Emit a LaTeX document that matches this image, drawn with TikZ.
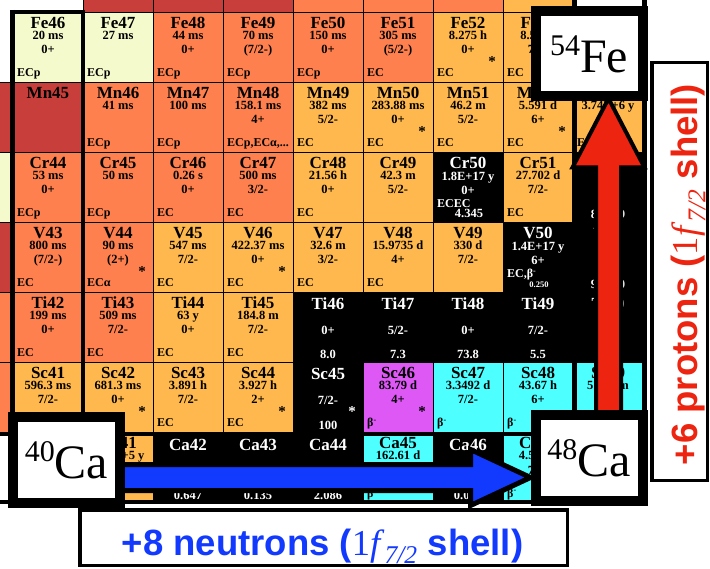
\documentclass[tikz,border=0pt]{standalone}
\usepackage{fontspec}
\setmainfont{Liberation Serif}
\newfontfamily\lblfont{Liberation Sans}
\usetikzlibrary{calc}
\definecolor{lemon}{RGB}{245,250,205}
\definecolor{coral}{RGB}{254,128,78}
\definecolor{amber}{RGB}{254,184,77}
\definecolor{brick}{RGB}{200,62,58}
\definecolor{orchid}{RGB}{222,88,246}
\definecolor{aqua}{RGB}{77,255,255}
\definecolor{arrowblue}{RGB}{18,58,255}
\definecolor{arrowred}{RGB}{236,36,16}
\pgfdeclarelayer{cells}
\pgfdeclarelayer{arrows}
\pgfsetlayers{cells,arrows,main}

% one box of the chart: fill, N, Z, name, half-life, spin, decay, isomer
\newcommand\nuc[8]{%
  \begin{scope}[shift={({13+70*(#2-20)},{12+70*(26-#3)})}]
    \filldraw[fill=#1, cellline] (0,0) rectangle (70,70);
    \node[nucname] (#4) at (35,17) {#4};
    \node[nucval] (#4h) at (35,28) {#5};
    \node[nucval] (#4s) at (35,42) {#6};
    \node[nucmode] (#4m) at (4,65) {#7};
    \node[nucstar] (#4x) at (59,55) {#8};
  \end{scope}}
% stable box: N, Z, name, spin, abundance, isomer
\newcommand\stab[6]{%
  \begin{scope}[shift={({13+70*(#1-20)},{12+70*(26-#2)})}, every node/.append style={text=white}]
    \filldraw[fill=black, cellline] (0,0) rectangle (70,70);
    \node[nucname] (#3) at (35,18) {#3};
    \node[nucval] (#3s) at (35,43) {#4};
    \node[nucval] (#3a) at (35,67) {#5};
    \node[nucstar] (#3x) at (59,55) {#6};
  \end{scope}}
% long-lived box: N, Z, name, half-life, spin, decay, Q, Q size
\newcommand\lng[8]{%
  \begin{scope}[shift={({13+70*(#1-20)},{12+70*(26-#2)})}, every node/.append style={text=white}]
    \filldraw[fill=black, cellline] (0,0) rectangle (70,70);
    \node[nucname] (#3) at (35,17) {#3};
    \node[nucval] (#3h) at (35,29) {#4};
    \node[nucval] (#3s) at (35,43) {#5};
    \node[nucmode] (#3m) at (4,56) {#6};
    \node[anchor=base, font=\fontsize{#8}{#8}\selectfont\bfseries] (#3q) at (36,66) {#7};
  \end{scope}}
\newcommand\isotope[2]{\fontsize{48}{48}\selectfont\raisebox{17pt}{\fontsize{30}{30}\selectfont#1}#2}
\newcommand\shell{{\rmfamily\mdseries 1\textit{f}\textsubscript{\textit{7/2}}}}

\begin{document}
\begin{tikzpicture}[x=1pt, y=-1pt,
  every node/.style={inner sep=0},
  cellline/.style={draw=black, line width=0.9pt},
  nucname/.style={anchor=base, font=\fontsize{17}{17}\selectfont\bfseries},
  nucval/.style={anchor=base, font=\fontsize{12.5}{12.5}\selectfont\bfseries},
  nucmode/.style={anchor=base west, font=\fontsize{12}{12}\selectfont\bfseries},
  nucstar/.style={anchor=base, font=\fontsize{15}{15}\selectfont\bfseries},
  magic/.style={line width=4.5pt},
  isobox/.style={draw=black, line width=10pt, fill=white, minimum width=107pt, minimum height=85pt},
  shellbox/.style={draw=black, line width=3.5pt, fill=white},
  shelltext/.style={anchor=base, font=\lblfont\fontsize{36.5}{36.5}\selectfont\bfseries},
  bluearrow/.style={draw=black, line width=5pt, fill=arrowblue},
  redarrow/.style={draw=black, line width=4pt, fill=arrowred}]

  \useasboundingbox (0,0) rectangle (710,569);

  \begin{pgfonlayer}{cells}
    \foreach \n/\c in {21/brick,22/brick,23/brick,24/coral,25/coral,26/coral,27/amber}
      \filldraw[fill=\c, cellline] ({13+70*(\n-20)},-2) rectangle ++(70,14);
    \foreach \z/\c in {25/brick,24/lemon,23/brick,22/coral,21/coral}
      \filldraw[fill=\c, cellline] (-2,{12+70*(26-\z)}) rectangle (13,{82+70*(26-\z)});

    \nuc{lemon}{20}{26}{Fe46}{20 ms}{0+}{ECp}{}
    \nuc{lemon}{21}{26}{Fe47}{27 ms}{}{ECp}{}
    \nuc{coral}{22}{26}{Fe48}{44 ms}{0+}{ECp}{}
    \nuc{coral}{23}{26}{Fe49}{70 ms}{(7/2-)}{ECp}{}
    \nuc{coral}{24}{26}{Fe50}{150 ms}{0+}{ECp}{}
    \nuc{coral}{25}{26}{Fe51}{305 ms}{(5/2-)}{EC}{}
    \nuc{amber}{26}{26}{Fe52}{8.275 h}{0+}{EC}{*}
    \nuc{amber}{27}{26}{Fe53}{8.51 m}{7/2-}{EC}{*}

    \nuc{brick}{20}{25}{Mn45}{}{}{}{}
    \nuc{coral}{21}{25}{Mn46}{41 ms}{}{ECp}{}
    \nuc{coral}{22}{25}{Mn47}{100 ms}{}{ECp}{}
    \nuc{coral}{23}{25}{Mn48}{158.1 ms}{4+}{ECp,ECα,...}{}
    \nuc{amber}{24}{25}{Mn49}{382 ms}{5/2-}{EC}{}
    \nuc{amber}{25}{25}{Mn50}{283.88 ms}{0+}{EC}{*}
    \nuc{amber}{26}{25}{Mn51}{46.2 m}{5/2-}{EC}{}
    \nuc{amber}{27}{25}{Mn52}{5.591 d}{6+}{EC}{*}
    \nuc{amber}{28}{25}{Mn53}{3.74E+6 y}{7/2-}{EC}{}

    \nuc{coral}{20}{24}{Cr44}{53 ms}{0+}{ECp}{}
    \nuc{coral}{21}{24}{Cr45}{50 ms}{}{ECp}{}
    \nuc{coral}{22}{24}{Cr46}{0.26 s}{0+}{EC}{}
    \nuc{coral}{23}{24}{Cr47}{500 ms}{3/2-}{EC}{}
    \nuc{amber}{24}{24}{Cr48}{21.56 h}{0+}{EC}{}
    \nuc{amber}{25}{24}{Cr49}{42.3 m}{5/2-}{}{}
    \lng{26}{24}{Cr50}{1.8E+17 y}{0+}{ECEC}{4.345}{12.5}
    \nuc{amber}{27}{24}{Cr51}{27.702 d}{7/2-}{EC}{}
    \stab{28}{24}{Cr52}{0+}{83.789}{}

    \nuc{coral}{20}{23}{V43}{800 ms}{(7/2-)}{EC}{}
    \nuc{coral}{21}{23}{V44}{90 ms}{(2+)}{ECα}{*}
    \nuc{amber}{22}{23}{V45}{547 ms}{7/2-}{EC}{}
    \nuc{amber}{23}{23}{V46}{422.37 ms}{0+}{EC}{*}
    \nuc{amber}{24}{23}{V47}{32.6 m}{3/2-}{EC}{}
    \nuc{amber}{25}{23}{V48}{15.9735 d}{4+}{EC}{}
    \nuc{amber}{26}{23}{V49}{330 d}{7/2-}{}{}
    \lng{27}{23}{V50}{1.4E+17 y}{6+}{EC,β\textsuperscript{-}}{0.250}{8.5}
    \stab{28}{23}{V51}{7/2-}{99.750}{}

    \nuc{coral}{20}{22}{Ti42}{199 ms}{0+}{EC}{}
    \nuc{coral}{21}{22}{Ti43}{509 ms}{7/2-}{EC}{}
    \nuc{amber}{22}{22}{Ti44}{63 y}{0+}{EC}{}
    \nuc{amber}{23}{22}{Ti45}{184.8 m}{7/2-}{EC}{}
    \stab{24}{22}{Ti46}{0+}{8.0}{}
    \stab{25}{22}{Ti47}{5/2-}{7.3}{}
    \stab{26}{22}{Ti48}{0+}{73.8}{}
    \stab{27}{22}{Ti49}{7/2-}{5.5}{}
    \stab{28}{22}{Ti50}{0+}{5.2}{}

    \nuc{amber}{20}{21}{Sc41}{596.3 ms}{7/2-}{EC}{}
    \nuc{amber}{21}{21}{Sc42}{681.3 ms}{0+}{EC}{*}
    \nuc{amber}{22}{21}{Sc43}{3.891 h}{7/2-}{EC}{}
    \nuc{amber}{23}{21}{Sc44}{3.927 h}{2+}{EC}{*}
    \stab{24}{21}{Sc45}{7/2-}{100}{*}
    \nuc{orchid}{25}{21}{Sc46}{83.79 d}{4+}{β\textsuperscript{-}}{*}
    \nuc{aqua}{26}{21}{Sc47}{3.3492 d}{7/2-}{β\textsuperscript{-}}{}
    \nuc{aqua}{27}{21}{Sc48}{43.67 h}{6+}{β\textsuperscript{-}}{}
    \nuc{aqua}{28}{21}{Sc49}{57.18 m}{7/2-}{β\textsuperscript{-}}{}

    \nuc{amber}{21}{20}{Ca41}{1.02E+5 y}{7/2-}{EC}{}
    \stab{22}{20}{Ca42}{0+}{0.647}{}
    \stab{23}{20}{Ca43}{7/2-}{0.135}{}
    \stab{24}{20}{Ca44}{0+}{2.086}{}
    \nuc{aqua}{25}{20}{Ca45}{162.61 d}{7/2-}{β\textsuperscript{-}}{}
    \stab{26}{20}{Ca46}{0+}{0.004}{}
    \nuc{aqua}{27}{20}{Ca47}{4.536 d}{7/2-}{β\textsuperscript{-}}{}

    \draw[magic] (12.5,10) -- (12.5,505);
    \draw[magic] (83,10) -- (83,505);
    \draw[magic] (10,12) -- (85,12);
    \draw[magic] (574.5,0) -- (574.5,480);
    \draw[magic] (644.5,0) -- (644.5,480);
    \draw[magic] (0,434) -- (647,434);
    \draw[magic] (0,502) -- (535,502);
  \end{pgfonlayer}

  \node[isobox] (ca40) at (66.5,460) {\isotope{40}{Ca}};
  \node[isobox] (ca48) at (589,458) {\isotope{48}{Ca}};
  \node[isobox] (fe54) at (589,54) {\isotope{54}{Fe}};

  \begin{pgfonlayer}{arrows}
    \coordinate (lane) at (0,477.5);
    \coordinate (bs) at ($(ca40.east |- lane)+(-8,0)$);
    \coordinate (bt) at (ca48.west |- lane);
    \coordinate (bh) at ($(bt)+(-60,0)$);
    \draw[bluearrow] ($(bs)+(0,-13)$) -- ($(bh)+(0,-13)$) -- ($(bh)+(0,-28)$) -- (bt)
      -- ($(bh)+(0,28)$) -- ($(bh)+(0,13)$) -- ($(bs)+(0,13)$) -- cycle;
    \coordinate (rlane) at (608.5,0);
    \coordinate (rs) at ($(ca48.north -| rlane)+(0,8)$);
    \coordinate (rt) at ($(fe54.south -| rlane)+(0,-3)$);
    \coordinate (rh) at ($(rt)+(0,69)$);
    \draw[redarrow] ($(rs)+(-12.5,0)$) -- ($(rh)+(-12.5,0)$) -- ($(rh)+(-36,0)$) -- (rt)
      -- ($(rh)+(36,0)$) -- ($(rh)+(12.5,0)$) -- ($(rs)+(12.5,0)$) -- cycle;
  \end{pgfonlayer}

  \node[shellbox, minimum width=487.5pt, minimum height=55.5pt] (nbox) at (323.5,537.5) {};
  \node[shelltext, text=arrowblue] (ntext) at (322.5,555) {+8 neutrons (\shell{} shell)};
  \node[shellbox, minimum width=55.5pt, minimum height=417.5pt] (pbox) at (679.5,271.5) {};
  \node[shelltext, text=arrowred, rotate=90] (ptext) at (697,274.5) {+6 protons (\shell{} shell)};
\end{tikzpicture}
\end{document}
